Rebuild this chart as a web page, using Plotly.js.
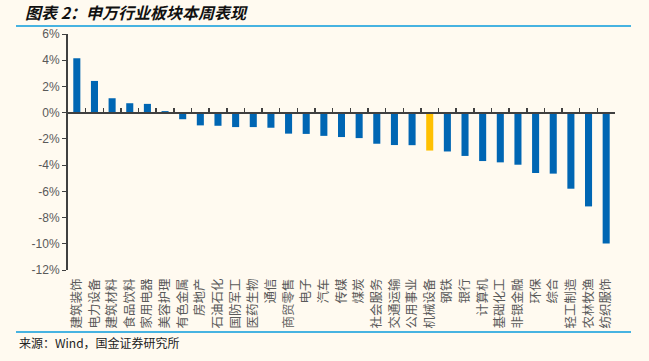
<!DOCTYPE html>
<html><head><meta charset="utf-8">
<script src="https://cdn.plot.ly/plotly-3.0.1.min.js"></script>
<style>body{margin:0;background:#FFFAF0}</style>
</head><body>
<div id="chart" style="width:649px;height:361px"></div>
<script>
const categories = ["建筑装饰","电力设备","建筑材料","食品饮料","家用电器","美容护理","有色金属","房地产","石油石化","国防军工","医药生物","通信","商贸零售","电子","汽车","传媒","煤炭","社会服务","交通运输","公用事业","机械设备","钢铁","银行","计算机","基础化工","非银金融","环保","综合","轻工制造","农林牧渔","纺织服饰"];
const weeklyChange = [4.15,2.42,1.10,0.72,0.67,0.12,-0.50,-0.97,-1.00,-1.10,-1.10,-1.15,-1.60,-1.62,-1.77,-1.86,-1.94,-2.37,-2.47,-2.48,-2.89,-2.96,-3.30,-3.69,-3.79,-3.97,-4.60,-4.65,-5.80,-7.15,-9.98];
const highlight = "机械设备";
const yTickVals = [6,4,2,0,-2,-4,-6,-8,-10,-12];
const yTickText = ["6%","4%","2%","0%","-2%","-4%","-6%","-8%","-10%","-12%"];

const colors = categories.map(c => c === highlight ? "#FFC000" : "#0066B3");
const cjk = '"Noto Sans CJK SC", Arial, sans-serif';

const traces = [
  {type:"bar", x:categories, y:weeklyChange, marker:{color:colors}, hoverinfo:"x+y", xaxis:"x", yaxis:"y"},
  {type:"bar", x:categories, y:weeklyChange, marker:{color:"rgba(0,0,0,0)"}, hoverinfo:"skip", xaxis:"x2", yaxis:"y", showlegend:false}
];

const layout = {
  width:649, height:361,
  paper_bgcolor:"#FFFAF0", plot_bgcolor:"#FFFAF0",
  margin:{l:68, r:34, t:34, b:91},
  showlegend:false,
  bargap:0.6,
  title:{text:"图表 2：申万行业板块本周表现", x:25/649, xanchor:"left", xref:"container", y:1-13/361, yref:"container", yanchor:"middle",
         font:{family:cjk, size:16, color:"#111111", weight:"bold", style:"italic"}},
  xaxis:{type:"category", showline:false, ticks:"", tickangle:-90, ticklabelstandoff:5, tickfont:{family:cjk, size:12.5, color:"#595959"}, showgrid:false, zeroline:false, fixedrange:true},
  xaxis2:{type:"category", overlaying:"x", matches:"x", anchor:"free", position:12/18, showline:true, linecolor:"#404040", linewidth:2,
          ticks:"inside", tickson:"boundaries", ticklen:4, tickwidth:1.5, tickcolor:"#404040", showticklabels:false, showgrid:false, zeroline:false},
  yaxis:{range:[-12,6], tickvals:yTickVals, ticktext:yTickText, showline:true, linecolor:"#404040", linewidth:2, ticks:"outside", ticklen:4, tickcolor:"#404040",
         tickfont:{family:"Arial, Liberation Sans, sans-serif", size:12, color:"#595959"}, showgrid:false, zeroline:false},
  shapes:[
    {type:"line", xref:"paper", yref:"paper", x0:(16-68)/547, x1:(631-68)/547, y0:1+8/236, y1:1+8/236, line:{color:"#0A9BDD", width:1.5}},
    {type:"line", xref:"paper", yref:"paper", x0:(16-68)/547, x1:(631-68)/547, y0:-(62/236), y1:-(62/236), line:{color:"#0A9BDD", width:1.5}}
  ],
  annotations:[
    {text:"来源：Wind，国金证券研究所", xref:"paper", yref:"paper", x:(17-68)/547, y:-(72/236), xanchor:"left", yanchor:"middle", showarrow:false,
     font:{family:cjk, size:12, color:"#222222"}}
  ]
};
Plotly.newPlot("chart", traces, layout, {displayModeBar:false, staticPlot:true});
</script>
</body></html>
